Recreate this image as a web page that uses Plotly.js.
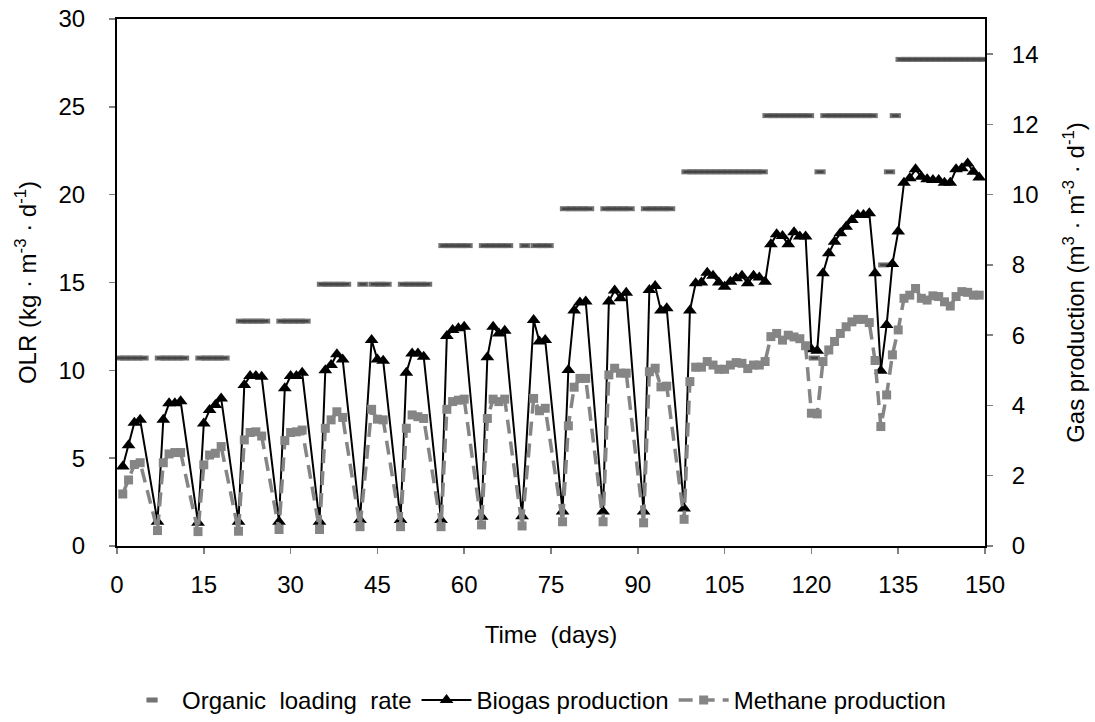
<!DOCTYPE html>
<html><head><meta charset="utf-8">
<script src="https://cdn.plot.ly/plotly-3.0.1.min.js"></script>
<style>html,body{margin:0;padding:0;background:#fff}#chart{width:1095px;height:722px}</style>
</head><body><div id="chart"></div>
<script>
// Organic loading rate (left axis, kg m-3 d-1)
const olrDays = [0.5,1.5,2.5,3.5,4.5, 7.5,8.5,9.5,10.5,11.5, 14.5,15.5,16.5,17.5,18.5,
  21.5,22.5,23.5,24.5,25.5, 28.5,29.5,30.5,31.5,32.5,
  35.5,36.5,37.5,38.5,39.5, 42.5, 44.5,45.5,46.5, 49.5,50.5,51.5,52.5,53.5,
  56.5,57.5,58.5,59.5,60.5, 63.5,64.5,65.5,66.5,67.5, 70.5, 72.5,73.5,74.5,
  77.5,78.5,79.5,80.5,81.5, 84.5,85.5,86.5,87.5,88.5, 91.5,92.5,93.5,94.5,95.5,
  98.5,99.5,100.5,101.5,102.5,103.5,104.5,105.5,106.5,107.5,108.5,109.5,110.5,111.5,
  112.5,113.5,114.5,115.5,116.5,117.5,118.5,119.5, 120.5, 121.5,
  122.5,123.5,124.5,125.5,126.5,127.5,128.5,129.5,130.5, 132.5, 133.5, 134.5,
  135.5,136.5,137.5,138.5,139.5,140.5,141.5,142.5,143.5,144.5,145.5,146.5,147.5,148.5,149.5];
const olrValues = [10.7,10.7,10.7,10.7,10.7, 10.7,10.7,10.7,10.7,10.7, 10.7,10.7,10.7,10.7,10.7,
  12.8,12.8,12.8,12.8,12.8, 12.8,12.8,12.8,12.8,12.8,
  14.9,14.9,14.9,14.9,14.9, 14.9, 14.9,14.9,14.9, 14.9,14.9,14.9,14.9,14.9,
  17.1,17.1,17.1,17.1,17.1, 17.1,17.1,17.1,17.1,17.1, 17.1, 17.1,17.1,17.1,
  19.2,19.2,19.2,19.2,19.2, 19.2,19.2,19.2,19.2,19.2, 19.2,19.2,19.2,19.2,19.2,
  21.3,21.3,21.3,21.3,21.3,21.3,21.3,21.3,21.3,21.3,21.3,21.3,21.3,21.3,
  24.5,24.5,24.5,24.5,24.5,24.5,24.5,24.5, 10.7, 21.3,
  24.5,24.5,24.5,24.5,24.5,24.5,24.5,24.5,24.5, 16.0, 21.3, 24.5,
  27.7,27.7,27.7,27.7,27.7,27.7,27.7,27.7,27.7,27.7,27.7,27.7,27.7,27.7,27.7];

// Biogas production (right axis, m3 m-3 d-1)
const biogasDays = [1,2,3,4, 7,8,9,10,11, 14,15,16,17,18, 21,22,23,24,25, 28,29,30,31,32,
  35,36,37,38,39, 42,44,45,46, 49,50,51,52,53, 56,57,58,59,60, 63,64,65,66,67,
  70,72,73,74, 77,78,79,80,81, 84,85,86,87,88, 91,92,93,94,95,
  98,99,100,101,102,103,104,105,106,107,108,109,110,111,112,113,114,115,116,117,118,119,
  120,121,122,123,124,125,126,127,128,129,130,131,132,133,134,135,136,137,138,139,140,
  141,142,143,144,145,146,147,148,149];
const biogasValues = [2.26,2.87,3.51,3.59, 0.69,3.59,4.06,4.06,4.12, 0.66,3.49,3.87,4.01,4.2,
  0.69,4.58,4.84,4.84,4.82, 0.69,4.49,4.84,4.84,4.93,
  0.69,5.0,5.15,5.46,5.31, 0.74,5.86,5.31,5.27, 0.74,4.93,5.48,5.48,5.39,
  0.74,5.98,6.15,6.2,6.24, 0.83,5.37,6.24,6.05,6.13,
  0.85,6.43,5.82,5.86, 0.98,5.01,6.7,6.93,6.96, 0.98,6.96,7.27,7.05,7.21, 0.98,7.29,7.4,6.7,6.77,
  1.07,6.7,7.48,7.5,7.78,7.69,7.5,7.38,7.52,7.62,7.69,7.48,7.69,7.64,7.52,8.59,8.87,8.82,8.59,8.93,8.81,8.81,
  5.6,5.56,7.76,8.33,8.66,8.9,9.09,9.28,9.42,9.42,9.47,7.76,4.99,6.29,8.03,8.95,10.34,10.47,10.72,10.51,10.44,
  10.42,10.42,10.34,10.34,10.72,10.75,10.89,10.65,10.49];

// Methane production (right axis, m3 m-3 d-1)
const methaneDays = [1,2,3,4, 7,8,9,10,11, 14,15,16,17,18, 21,22,23,24,25, 28,29,30,31,32,
  35,36,37,38,39, 42,44,45,46, 49,50,51,52,53, 56,57,58,59,60, 63,64,65,66,67,
  70,72,73,74, 77,78,79,80,81, 84,85,86,87,88, 91,92,93,94,95,
  98,99,100,101,102,103,104,105,106,107,108,109,110,111,112,113,114,115,116,117,118,119,
  120,121,122,123,124,125,126,127,128,129,130,131,132,133,134,135,136,137,138,139,140,
  141,142,143,144,145,146,147,148,149];
const methaneValues = [1.48,1.88,2.32,2.37, 0.44,2.37,2.62,2.66,2.66, 0.41,2.31,2.59,2.64,2.83,
  0.42,3.02,3.23,3.25,3.13, 0.47,3.0,3.23,3.25,3.3,
  0.47,3.35,3.59,3.82,3.66, 0.55,3.89,3.61,3.59, 0.55,3.35,3.73,3.68,3.63,
  0.55,3.89,4.11,4.15,4.18, 0.6,3.63,4.18,4.11,4.18,
  0.57,4.2,3.85,3.92, 0.69,3.42,4.52,4.77,4.77, 0.69,4.87,5.06,4.92,4.92, 0.66,4.96,5.06,4.53,4.55,
  0.76,4.68,5.09,5.09,5.25,5.15,5.03,5.03,5.15,5.22,5.2,5.05,5.15,5.15,5.25,5.96,6.05,5.86,6.0,5.95,5.9,5.7,
  3.78,3.76,5.25,5.58,5.82,6.05,6.24,6.38,6.45,6.45,6.36,5.28,3.4,4.3,5.44,6.15,7.05,7.14,7.33,7.05,7.0,
  7.12,7.1,6.95,6.83,7.1,7.24,7.22,7.14,7.14];

const xTicks = [0,15,30,45,60,75,90,105,120,135,150];
const yLeftTicks = [0,5,10,15,20,25,30];
const yRightTicks = [0,2,4,6,8,10,12,14];

const FONT = 'Liberation Sans, Arial, sans-serif';
const NB = '\u00a0';

const traces = [
  {x: olrDays, y: olrValues, name: 'Organic' + NB + ' loading' + NB + ' rate', mode: 'markers', type: 'scatter',
   marker: {symbol: 'line-ew', size: 8, color: '#737373', line: {color: '#737373', width: 5}}},
  {x: olrDays, y: olrValues, name: 'OLR core', mode: 'markers', type: 'scatter', showlegend: false,
   marker: {symbol: 'line-ew', size: 5, color: '#454545', line: {color: '#454545', width: 2.5}}},
  {x: biogasDays, y: biogasValues, name: 'Biogas production', mode: 'lines+markers', type: 'scatter', yaxis: 'y2',
   line: {color: '#000000', width: 2},
   marker: {symbol: 'triangle-up', size: 12, color: '#000000'}},
  {x: methaneDays, y: methaneValues, name: 'Methane production', mode: 'lines+markers', type: 'scatter', yaxis: 'y2',
   line: {color: '#858585', width: 3.5, dash: '14px,8px'},
   marker: {symbol: 'square', size: 9, color: '#858585'}}
];

const layout = {
  width: 1095, height: 722,
  margin: {l: 117, r: 110, t: 19, b: 176, pad: 0},
  paper_bgcolor: '#ffffff', plot_bgcolor: '#ffffff',
  font: {family: FONT, size: 24, color: '#000000'},
  showlegend: true,
  legend: {orientation: 'h', xref: 'container', yref: 'container', x: 0.49, xanchor: 'center', y: 0.03, yanchor: 'middle', itemwidth: 50,
           font: {family: FONT, size: 24, color: '#000000'}, bgcolor: 'rgba(0,0,0,0)'},
  xaxis: {range: [0, 150], tickvals: xTicks, ticktext: xTicks.map(String),
          showgrid: false, zeroline: false, showline: true, linecolor: '#000', linewidth: 2, mirror: true,
          ticks: 'outside', ticklen: 6, tickcolor: '#808080', tickwidth: 1.5, ticklabelstandoff: 10,
          tickfont: {family: FONT, size: 24},
          title: {text: 'Time' + NB + ' (days)', font: {family: FONT, size: 24}, standoff: 29}, automargin: false},
  yaxis: {range: [0, 30], tickvals: yLeftTicks, ticktext: yLeftTicks.map(String),
          showgrid: false, zeroline: false, showline: true, linecolor: '#000', linewidth: 2,
          ticks: 'outside', ticklen: 6, tickcolor: '#808080', tickwidth: 1.5, ticklabelstandoff: 19,
          tickfont: {family: FONT, size: 24},
          title: {text: 'OLR (kg · m<sup>-3</sup> · d<sup>-1</sup>)', font: {family: FONT, size: 24}, standoff: 15}, automargin: false},
  yaxis2: {range: [0, 15], tickvals: yRightTicks, ticktext: yRightTicks.map(String), overlaying: 'y', side: 'right',
          showgrid: false, zeroline: false, showline: true, linecolor: '#000', linewidth: 2,
          ticks: 'outside', ticklen: 6, tickcolor: '#808080', tickwidth: 1.5, ticklabelstandoff: 14,
          tickfont: {family: FONT, size: 24},
          title: {text: 'Gas production (m<sup>3</sup> · m<sup>-3</sup> · d<sup>-1</sup>)', font: {family: FONT, size: 24}, standoff: 30}, automargin: false}
};

Plotly.newPlot('chart', traces, layout, {staticPlot: true, displayModeBar: false});
</script></body></html>
